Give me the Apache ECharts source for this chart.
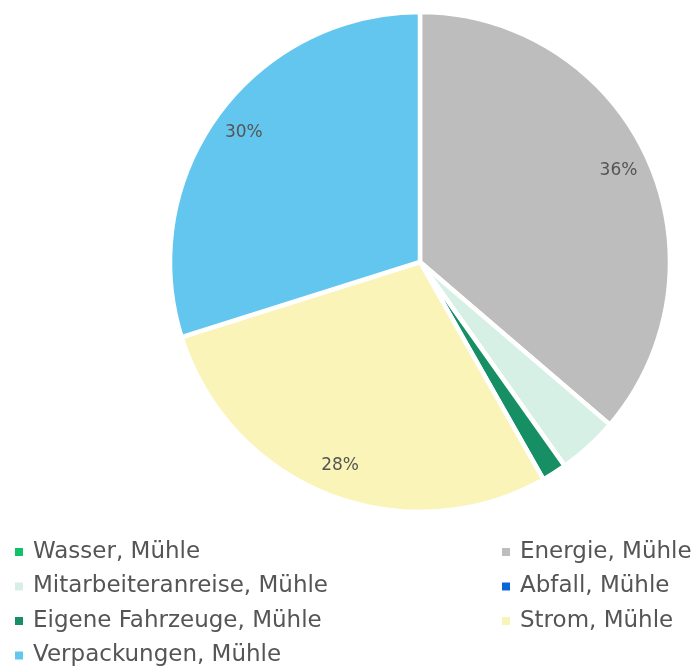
<!DOCTYPE html>
<html>
<head>
<meta charset="utf-8">
<script src="https://cdn.jsdelivr.net/npm/echarts@6/dist/echarts.min.js"></script>
<style>
  html, body { margin: 0; padding: 0; background: #fff; }
  #pie { width: 695px; height: 668px; }
</style>
</head>
<body>
<div id="pie"></div>
<script>
// order = legend order (row by row in the original)
var names = ['Wasser, Mühle', 'Energie, Mühle', 'Mitarbeiteranreise, Mühle', 'Abfall, Mühle',
  'Eigene Fahrzeuge, Mühle', 'Strom, Mühle', 'Verpackungen, Mühle'];
var values = [0, 36.2, 3.9, 0, 1.6, 28.3, 29.8];
var colors = ['#12c26b', '#bdbdbd', '#d6f0e6', '#0a66d4', '#178f65', '#faf4b8', '#63c6ef'];

var leftCol = ['Wasser, Mühle', 'Mitarbeiteranreise, Mühle', 'Eigene Fahrzeuge, Mühle', 'Verpackungen, Mühle'];
var rightCol = ['Energie, Mühle', 'Abfall, Mühle', 'Strom, Mühle'];

var chartDom = document.getElementById('pie');
var myChart = echarts.init(chartDom);
var option;

var data = names.map(function (n, i) {
  return { name: n, value: values[i], itemStyle: { color: colors[i] } };
});

var legendText = { fontFamily: 'DejaVu Sans', fontSize: 23, lineHeight: 24, color: '#555', padding: [0, 0, 0, 4] };

option = {
  legend: [
    { orient: 'vertical', left: 13, top: 540, height: 140, padding: 0, itemWidth: 10, itemHeight: 10,
      itemGap: 10.5, icon: 'rect', data: leftCol, textStyle: legendText },
    { orient: 'vertical', left: 500, top: 540, height: 140, padding: 0, itemWidth: 10, itemHeight: 10,
      itemGap: 10.5, icon: 'rect', data: rightCol, textStyle: legendText }
  ],
  series: [
    {
      type: 'pie',
      center: [420, 262],
      radius: [0, 250],
      startAngle: 90,
      data: data,
      label: { show: false },
      labelLine: { show: false },
      itemStyle: { borderColor: '#fff', borderWidth: 4.5 },
      emphasis: { disabled: true }
    },
    {
      // transparent ring only used to place percent labels near the rim
      type: 'pie',
      center: [420, 262],
      radius: [182, 249],
      startAngle: 90,
      silent: true,
      data: data.map(function (d) { return { name: d.name, value: d.value }; }),
      itemStyle: { color: 'rgba(0,0,0,0)', borderWidth: 0 },
      label: {
        show: true,
        position: 'inside',
        fontFamily: 'DejaVu Sans',
        fontSize: 17,
        color: '#555',
        formatter: function (p) {
          return p.percent >= 5 ? Math.round(p.percent) + '%' : '';
        }
      },
      labelLine: { show: false },
      emphasis: { disabled: true }
    }
  ]
};
option && myChart.setOption(option);
</script>
</body>
</html>
